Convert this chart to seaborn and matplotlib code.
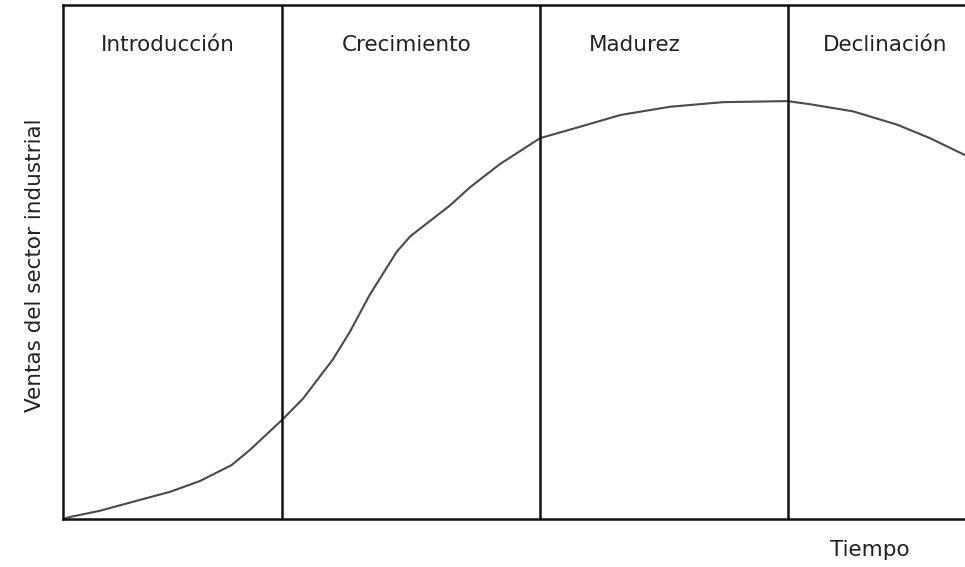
import matplotlib
matplotlib.use("Agg")
import matplotlib.pyplot as plt
import seaborn as sns

# ciclo de vida del sector industrial (escala 0-100)
tiempo = [0, 0.8, 4.1, 8.5, 11.9, 15.2, 18.7, 20.7, 24.3, 26.6, 29.9, 31.8, 34.0,
          37.0, 38.5, 42.9, 45.1, 48.4, 52.9, 57.3, 61.8, 67.3, 73.2, 80.3,
          82.8, 87.6, 92.5, 96.1, 100]
ventas = [0, 0.4, 1.6, 3.7, 5.3, 7.4, 10.5, 13.4, 19.3, 23.4, 31.0, 36.4, 43.6,
          52.0, 55.0, 61.0, 64.5, 69.0, 74.1, 76.3, 78.6, 80.2, 81.1, 81.3,
          80.7, 79.3, 76.7, 74.1, 70.8]

etapas = ["Introducción", "Crecimiento", "Madurez", "Declinación"]
limites = [24.3, 52.9, 80.4]
centros = [11.6, 38.1, 63.4, 91.1]

sns.set_theme(style="white")
plt.rcParams["font.family"] = ["DejaVu Sans"]

fig = plt.figure(figsize=(9.65, 5.67), dpi=100)
ax = fig.add_axes([0.0653, 0.0847, 0.9347, 0.9065])

sns.lineplot(x=tiempo, y=ventas, ax=ax, color="#4a4a4a", linewidth=1.5)

for x in limites:
    ax.axvline(x, color="#111111", linewidth=1.8)

for nombre, cx in zip(etapas, centros):
    ax.text(cx, 92.2, nombre, ha="center", va="center", fontsize=15.5, color="#222222")

ax.set_xlim(0, 100)
ax.set_ylim(0, 100)
ax.set_xticks([])
ax.set_yticks([])
ax.set_xlabel("")
ax.set_ylabel("")

for lado in ["left", "top", "bottom"]:
    ax.spines[lado].set_color("#111111")
    ax.spines[lado].set_linewidth(1.8)
ax.spines["right"].set_visible(False)

fig.text(35 / 965, 1 - 265 / 567, "Ventas del sector industrial", rotation=90,
         ha="center", va="center", fontsize=15.5, color="#222222")
fig.text(870 / 965, 1 - 550 / 567, "Tiempo", ha="center", va="center",
         fontsize=15.5, color="#222222")

fig.savefig("out.png", dpi=100, facecolor="white")
